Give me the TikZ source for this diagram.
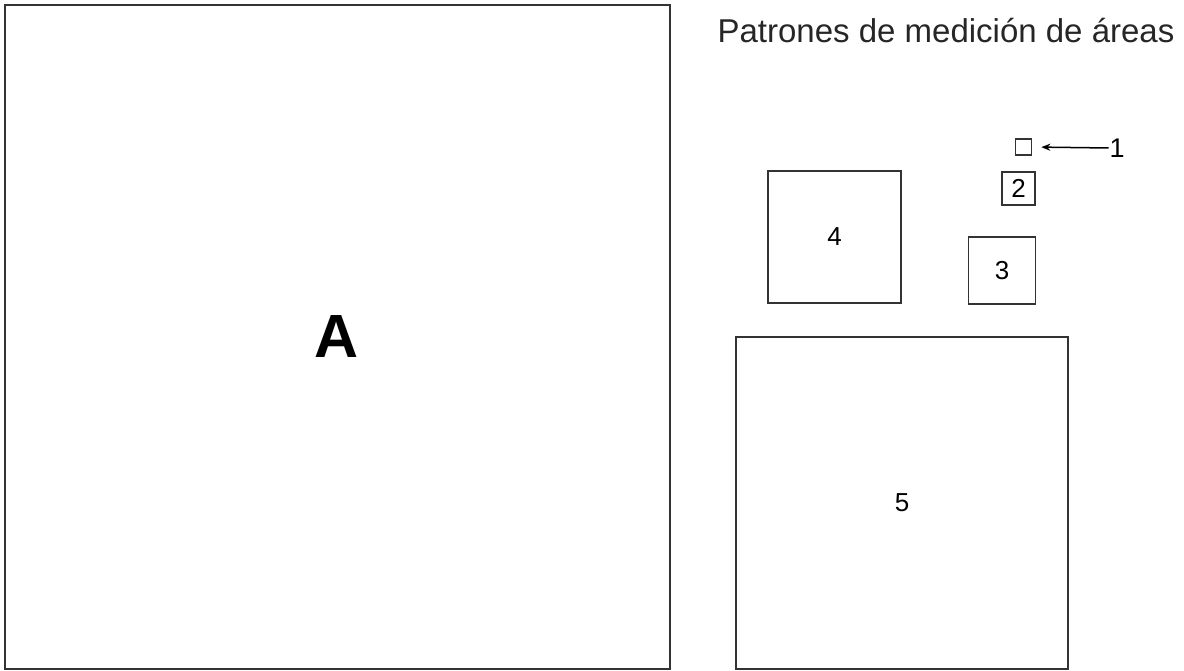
\documentclass[tikz,border=0pt]{standalone}
\usepackage{fontspec}
\setmainfont{Liberation Sans}
\usetikzlibrary{arrows.meta}
\begin{document}
\begin{tikzpicture}[x=1pt,y=-1pt,line width=1.6pt,
  patron/.style={draw=black!80,rectangle,inner sep=0pt,font=\fontsize{26}{30}\selectfont},
  flecha/.style={-{Stealth[length=9pt,width=7pt]},line width=1.5pt,shorten >=9pt}]
  \useasboundingbox (0,0) rectangle (1184,671);
  % figure A
  \node[patron,minimum width=665pt,minimum height=664pt] (area) at (337.5,337) {};
  \node[anchor=base,font=\fontsize{61}{70}\selectfont\bfseries] (letra) at (337,357) {A};
  % title
  \node[anchor=base,font=\fontsize{33}{40}\selectfont,text=black!85] (titulo) at (946,43) {Patrones de medici\'on de \'areas};
  % patterns
  \node[patron,minimum size=16pt] (p1) at (1023.5,147) {};
  \foreach \n/\x/\y/\s in {2/1018.5/188.5/33, 3/1002/270.5/67, 4/834.5/237/132.5, 5/902/503/332} {
    \node[patron,minimum size=\s pt] (p\n) at (\x,\y) {\n};
  }
  \node[font=\fontsize{27}{32}\selectfont,inner sep=0pt] (l1) at (1117,148) {1};
  \draw[flecha] (l1.west) -- (p1.east);
\end{tikzpicture}
\end{document}
